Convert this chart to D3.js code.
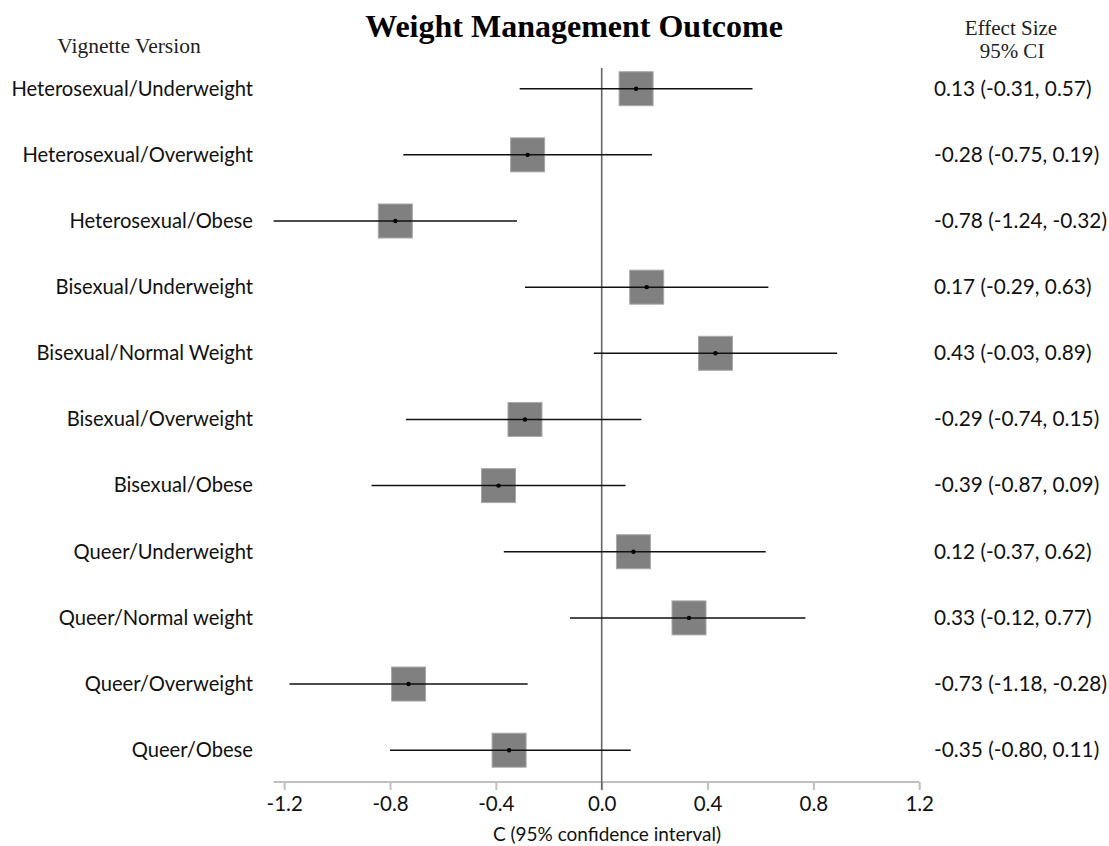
<!DOCTYPE html>
<html><head><meta charset="utf-8">
<script src="https://cdn.jsdelivr.net/npm/d3@7"></script>
<style>body{margin:0;background:#fff}svg{display:block}</style>
</head><body>
<svg id="c" width="1109" height="846"></svg>
<script>
const categories = ["Heterosexual/Underweight","Heterosexual/Overweight","Heterosexual/Obese","Bisexual/Underweight","Bisexual/Normal Weight","Bisexual/Overweight","Bisexual/Obese","Queer/Underweight","Queer/Normal weight","Queer/Overweight","Queer/Obese"];
const estimates = [0.13,-0.28,-0.78,0.17,0.43,-0.29,-0.39,0.12,0.33,-0.73,-0.35];
const lower = [-0.31,-0.75,-1.24,-0.29,-0.03,-0.74,-0.87,-0.37,-0.12,-1.18,-0.80];
const upper = [0.57,0.19,-0.32,0.63,0.89,0.15,0.09,0.62,0.77,-0.28,0.11];
const ciLabels = ["0.13 (-0.31, 0.57)","-0.28 (-0.75, 0.19)","-0.78 (-1.24, -0.32)","0.17 (-0.29, 0.63)","0.43 (-0.03, 0.89)","-0.29 (-0.74, 0.15)","-0.39 (-0.87, 0.09)","0.12 (-0.37, 0.62)","0.33 (-0.12, 0.77)","-0.73 (-1.18, -0.28)","-0.35 (-0.80, 0.11)"];
const tickValues = [-1.2,-0.8,-0.4,0.0,0.4,0.8,1.2];

const svg = d3.select("#c");
const x = d3.scaleLinear().domain([-1.2,1.2]).range([284.2,919.2]);
const y = d3.scalePoint().domain(categories).range([88.7,750.2]);
const axisY = 782;
const sq = 34;
const sans = "Lato, 'Open Sans', sans-serif";
const serif = "'Liberation Serif','DejaVu Serif',serif";

// title and headers
svg.append("text").attr("x",574).attr("y",37).attr("text-anchor","middle")
  .attr("font-family",serif).attr("font-weight","bold").attr("font-size",32).text("Weight Management Outcome");
svg.append("text").attr("x",129).attr("y",53).attr("text-anchor","middle")
  .attr("font-family",serif).attr("font-size",21.5).attr("fill","#222").text("Vignette Version");
svg.append("text").attr("x",1011).attr("y",35).attr("text-anchor","middle")
  .attr("font-family",serif).attr("font-size",21).attr("fill","#222").text("Effect Size");
svg.append("text").attr("x",1012).attr("y",58).attr("text-anchor","middle")
  .attr("font-family",serif).attr("font-size",21).attr("fill","#222").text("95% CI");

// axis
const ax = svg.append("g").attr("transform",`translate(0,${axisY})`)
  .call(d3.axisBottom(x).tickValues(tickValues).tickFormat(d3.format(".1f")).tickSize(8).tickSizeOuter(0));
ax.select(".domain").attr("stroke","#c0c0c0").attr("stroke-width",2)
  .attr("d",`M${x(-1.24)},0H${x(1.2)}`);
ax.selectAll(".tick line").attr("stroke","#c0c0c0").attr("stroke-width",2);
ax.selectAll(".tick text").attr("font-family",sans).attr("font-size",20.5).attr("fill","#111")
  .attr("y",29).attr("dy",0)
  .text(d => d3.format(".1f")(d).replace("−","-"));
svg.append("text").attr("x",607).attr("y",841).attr("text-anchor","middle")
  .attr("font-family",sans).attr("font-size",19).attr("fill","#111").text("C (95% confidence interval)");

// zero line
svg.append("line").attr("x1",x(0)).attr("x2",x(0)).attr("y1",68).attr("y2",axisY+8)
  .attr("stroke","#666").attr("stroke-width",1.6);

const rows = svg.append("g").selectAll("g").data(categories).join("g");
rows.append("rect").attr("x",(d,i)=>x(estimates[i])-sq/2).attr("y",d=>y(d)-sq/2)
  .attr("width",sq).attr("height",sq).attr("fill","#808080").attr("stroke","#a8a8a8").attr("stroke-width",1);
rows.append("line").attr("x1",(d,i)=>x(lower[i])).attr("x2",(d,i)=>x(upper[i]))
  .attr("y1",d=>y(d)).attr("y2",d=>y(d)).attr("stroke","#111").attr("stroke-width",1.5);
rows.append("circle").attr("cx",(d,i)=>x(estimates[i])).attr("cy",d=>y(d)).attr("r",2.2).attr("fill","#000");
rows.append("text").attr("x",253).attr("y",d=>y(d)+6.8).attr("text-anchor","end")
  .attr("font-family",sans).attr("font-size",20.2).attr("fill","#111").text(d=>d);
rows.append("text").attr("x",934).attr("y",d=>y(d)+6.8)
  .attr("font-family",sans).attr("font-size",20.8).attr("fill","#111").text((d,i)=>ciLabels[i]);
</script>
</body></html>
